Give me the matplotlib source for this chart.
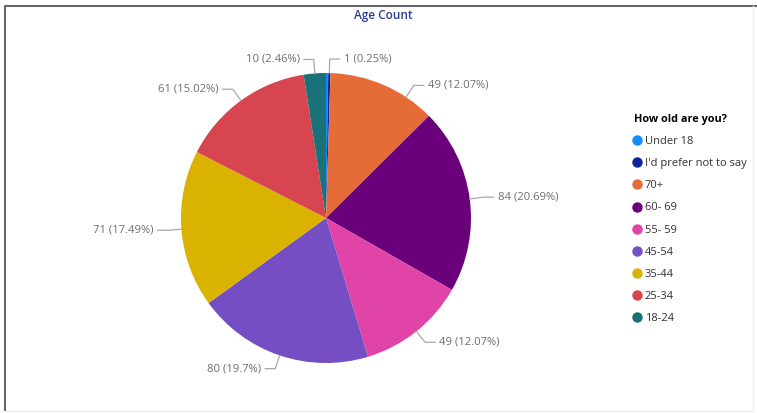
import numpy as np
import matplotlib.pyplot as plt
from matplotlib.lines import Line2D

# data
categories = ['Under 18', "I'd prefer not to say", '70+', '60- 69', '55- 59',
              '45-54', '35-44', '25-34', '18-24']
counts = [1, 1, 49, 84, 49, 80, 71, 61, 10]
colors = ['#118DFF', '#12239E', '#E66C37', '#6B007B', '#E044A7',
          '#744EC2', '#D9B300', '#D64550', '#197278']
show_label = [False, True, True, True, True, True, True, True, True]
# leader angle nudges (deg) so labels do not collide
label_nudge = [0, 0, -10, 0, 0, 0, 0, 0, 0]

plt.rcParams['font.family'] = ['Open Sans', 'DejaVu Sans']

W, H = 757, 413
fig = plt.figure(figsize=(W / 100, H / 100), dpi=100)
ax = fig.add_axes([0, 0, 1, 1])

cx, cy, r = 326, H - 218, 145
wedges, _ = ax.pie(counts, colors=colors, startangle=90, counterclock=False,
                   center=(cx, cy), radius=r, frame=True,
                   wedgeprops=dict(linewidth=0))
ax.set_xlim(0, W)
ax.set_ylim(0, H)
ax.set_aspect('equal')
ax.axis('off')

total = sum(counts)
for w, n, show, nudge in zip(wedges, counts, show_label, label_nudge):
    if not show:
        continue
    th = np.deg2rad((w.theta1 + w.theta2) / 2 + nudge)
    c, s = np.cos(th), np.sin(th)
    p0 = (cx + r * c, cy + r * s)
    p1 = (cx + (r + 14) * c, cy + (r + 14) * s)
    side = 1 if c >= -0.01 else -1
    p2 = (p1[0] + side * 10, p1[1])
    ax.plot([p0[0], p1[0], p2[0]], [p0[1], p1[1], p2[1]], color='#A8A8A8', lw=0.9)
    pct = round(n / total * 100, 2)
    txt = f'{n} ({pct:g}%)'
    ax.text(p2[0] + side * 4, p2[1], txt, ha='left' if side > 0 else 'right',
            va='center', fontsize=8.1, color='#6E6E6E')

# title
ax.text(383, H - 15, 'Age Count', ha='center', va='center', fontsize=8.5,
        color='#2B3C9A', fontweight='semibold')

# frame lines
ax.plot([5, 5, W], [2, H - 6, H - 6], color='#666666', lw=1.5, solid_capstyle='butt')
ax.plot([753, 753], [2, H - 6], color='#EEEEEE', lw=1)
ax.plot([5, 753], [2, 2], color='#EEEEEE', lw=1)

# legend
handles = [Line2D([], [], marker='o', linestyle='none', markersize=6.5,
                  markerfacecolor=c, markeredgecolor=c) for c in colors]
leg = ax.legend(handles, categories, title='How old are you?', loc='upper left',
                bbox_to_anchor=(634 / W, 1 - 114 / H), bbox_transform=fig.transFigure,
                frameon=False, fontsize=8, labelspacing=1.0, handlelength=0.6,
                handletextpad=0.35, borderpad=0, borderaxespad=0,
                alignment='left', labelcolor='#333333',
                title_fontproperties={'weight': 'bold', 'size': 7.8})

fig.savefig('out.png', dpi=100)
